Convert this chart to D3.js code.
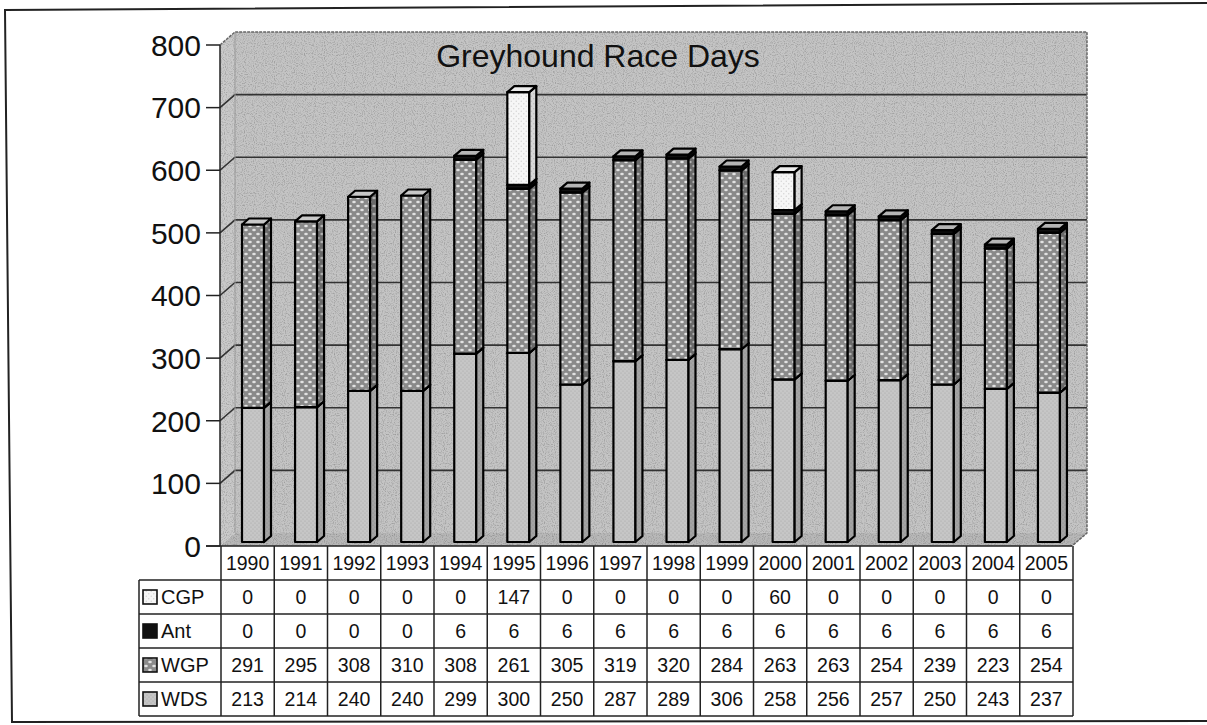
<!DOCTYPE html>
<html>
<head>
<meta charset="utf-8">
<script src="https://cdn.jsdelivr.net/npm/d3@7"></script>
<style>
  body { margin: 0; background: #fff; }
  svg text { font-family: "Liberation Sans", Arial, sans-serif; fill: #111; }
</style>
</head>
<body>
<div id="graph"></div>
<script>
"use strict";
const chartTitle = "Greyhound Race Days";
const years = ["1990", "1991", "1992", "1993", "1994", "1995", "1996", "1997",
               "1998", "1999", "2000", "2001", "2002", "2003", "2004", "2005"];
const seriesNames = ["WDS", "WGP", "Ant", "CGP"];           // stack order, bottom up
const tableOrder = ["CGP", "Ant", "WGP", "WDS"];            // table rows, top down
const wds = [213, 214, 240, 240, 299, 300, 250, 287, 289, 306, 258, 256, 257, 250, 243, 237];
const wgp = [291, 295, 308, 310, 308, 261, 305, 319, 320, 284, 263, 263, 254, 239, 223, 254];
const ant = [0, 0, 0, 0, 6, 6, 6, 6, 6, 6, 6, 6, 6, 6, 6, 6];
const cgp = [0, 0, 0, 0, 0, 147, 0, 0, 0, 0, 60, 0, 0, 0, 0, 0];
const yTicks = [0, 100, 200, 300, 400, 500, 600, 700, 800];

(function() {
    const svgSize = { width: 1207, height: 725 };
    const depth = { x: 15, y: -13 };       // depth of the walls
    const barDepth = { x: 7, y: -6 };      // depth of each column
    const barWidth = 22;
    const axisX = 220;
    const tableLeft = 139;
    const rowH = 34;

    const seriesValues = { WDS: wds, WGP: wgp, Ant: ant, CGP: cgp };
    const fills = {
        WDS: { front: "url(#pWds)", side: "url(#pWdsSide)", top: "#d6d6d6" },
        WGP: { front: "url(#pWgp)", side: "url(#pWgpSide)", top: "#c8c8c8" },
        Ant: { front: "#111", side: "#111", top: "#b5b5b5" },
        CGP: { front: "url(#pCgp)", side: "url(#pCgpSide)", top: "#ececec" },
    };

    let svg;
    let yAxis;
    let yBar;
    let xBar;
    let xTable;

    window.addEventListener("load", init);

    function init() {
        svg = d3.select("#graph")
            .append("svg")
                .attr("width", svgSize.width)
                .attr("height", svgSize.height);

        yAxis = d3.scaleLinear().domain([0, 800]).range([546, 45]);
        yBar = d3.scaleLinear().domain([0, 800]).range([542, 38]);
        xBar = d3.scaleBand().domain(years).range([226, 1075]);
        xTable = d3.scaleBand().domain(years).range([axisX + 1, 1073]);

        makeDefs();
        drawFrame();
        drawWalls();
        drawAxis();
        drawBars();
        drawTable();

        svg.append("text")
            .attr("x", 598)
            .attr("y", 67)
            .attr("text-anchor", "middle")
            .style("font-size", "32px")
            .text(chartTitle);
    }

    function makeDefs() {
        let defs = svg.append("defs");

        let f = defs.append("filter")
            .attr("id", "grain")
            .attr("x", 0).attr("y", 0).attr("width", "100%").attr("height", "100%");
        f.append("feTurbulence")
            .attr("type", "fractalNoise")
            .attr("baseFrequency", 0.9)
            .attr("numOctaves", 1)
            .attr("seed", 4);
        f.append("feColorMatrix")
            .attr("type", "matrix")
            .attr("values", "0 0 0 0 0  0 0 0 0 0  0 0 0 0 0  3 0 0 0 -1.4");

        // blobby texture like the scanned fill patterns
        pattern(defs, "pWgp", 8, 8, "#8a8a8a", "#e2e2e2", 1.8, 1.3);
        pattern(defs, "pWgpSide", 8, 8, "#6a6a6a", "#b2b2b2", 1.7, 1.2);
        pattern(defs, "pWds", 4, 4, "#c6c6c6", "#a6a6a6", 0.6, 0.6);
        pattern(defs, "pWdsSide", 4, 4, "#a4a4a4", "#888", 0.6, 0.6);
        pattern(defs, "pCgp", 5, 5, "#f6f6f6", "#d2d2d2", 0.7, 0.7);
        pattern(defs, "pCgpSide", 5, 5, "#d8d8d8", "#b8b8b8", 0.7, 0.7);

        defs.append("clipPath")
            .attr("id", "wallClip")
            .append("path")
            .attr("d", wallOutline());
    }

    function pattern(defs, id, w, h, base, dot, rx, ry) {
        let p = defs.append("pattern")
            .attr("id", id)
            .attr("patternUnits", "userSpaceOnUse")
            .attr("width", w)
            .attr("height", h);
        p.append("rect").attr("width", w).attr("height", h).attr("fill", base);
        p.append("ellipse").attr("cx", w / 4).attr("cy", h / 4)
            .attr("rx", rx).attr("ry", ry).attr("fill", dot);
        p.append("ellipse").attr("cx", 3 * w / 4).attr("cy", 3 * h / 4)
            .attr("rx", rx).attr("ry", ry).attr("fill", dot);
    }

    function wallOutline() {
        let top = yAxis(800);
        let bot = yAxis(0);
        return "M" + axisX + "," + top +
            "L" + (axisX + depth.x) + "," + (top + depth.y) +
            "L1087," + (top + depth.y) +
            "L1087," + (bot + depth.y) +
            "L1072," + bot +
            "L" + axisX + "," + bot + "Z";
    }

    function drawFrame() {
        svg.append("path")
            .attr("d", "M1207,3 L5,10 L12,722 L1207,721")
            .attr("fill", "none")
            .attr("stroke", "#222")
            .attr("stroke-width", 2);
    }

    function drawWalls() {
        let top = yAxis(800);
        let bot = yAxis(0);
        let bx = axisX + depth.x;
        let line = d3.line();

        // back wall
        svg.append("rect")
            .attr("x", bx)
            .attr("y", top + depth.y)
            .attr("width", 1087 - bx)
            .attr("height", bot - top)
            .attr("fill", "#c4c4c4");
        // side wall
        svg.append("path")
            .attr("d", line([[axisX, top], [bx, top + depth.y], [bx, bot + depth.y], [axisX, bot]]) + "Z")
            .attr("fill", "#c9c9c9");
        // floor
        svg.append("path")
            .attr("d", line([[axisX, bot], [1072, bot], [1087, bot + depth.y], [bx, bot + depth.y]]) + "Z")
            .attr("fill", "#b8b8b8");

        svg.append("rect")
            .attr("x", 200).attr("y", 0).attr("width", 900).attr("height", 560)
            .attr("clip-path", "url(#wallClip)")
            .attr("filter", "url(#grain)")
            .style("opacity", 0.2);

        // gridlines on back wall and side wall
        let grid = yTicks.filter((t) => t > 0 && t < 800);
        svg.selectAll(".grid")
            .data(grid)
            .enter()
            .append("path")
                .attr("class", "grid")
                .attr("d", (t) => line([[axisX, yAxis(t)], [bx, yAxis(t) + depth.y], [1087, yAxis(t) + depth.y]]))
                .attr("fill", "none")
                .attr("stroke", "#333")
                .attr("stroke-width", 1.6);

        svg.append("path")
            .attr("d", line([[axisX, top], [bx, top + depth.y], [1087, top + depth.y], [1087, bot + depth.y], [1072, bot]]))
            .attr("fill", "none")
            .attr("stroke", "#666")
            .attr("stroke-width", 1.5)
            .attr("stroke-dasharray", "3,1");
        svg.append("line")
            .attr("x1", bx).attr("x2", bx)
            .attr("y1", top + depth.y).attr("y2", bot + depth.y)
            .attr("stroke", "#999")
            .attr("stroke-width", 1);
    }

    function drawAxis() {
        svg.append("line")
            .attr("x1", axisX).attr("x2", axisX)
            .attr("y1", yAxis(800)).attr("y2", yAxis(0))
            .attr("stroke", "#222")
            .attr("stroke-width", 1.5);
        svg.selectAll(".tick")
            .data(yTicks)
            .enter()
            .append("line")
                .attr("x1", axisX - 14).attr("x2", axisX)
                .attr("y1", (t) => yAxis(t)).attr("y2", (t) => yAxis(t))
                .attr("stroke", "#222")
                .attr("stroke-width", 1.5);
        svg.selectAll(".ylabel")
            .data(yTicks)
            .enter()
            .append("text")
                .attr("x", 201)
                .attr("y", (t) => yAxis(t))
                .attr("dy", "0.36em")
                .attr("text-anchor", "end")
                .style("font-size", "30px")
                .text((t) => t);
    }

    function drawBars() {
        let rows = years.map((y, i) => {
            let r = { year: y };
            seriesNames.forEach((s) => r[s] = seriesValues[s][i]);
            return r;
        });
        let stacked = d3.stack().keys(seriesNames)(rows);
        let line = d3.line();
        let g = svg.append("g");

        years.forEach((year, i) => {
            let x = xBar(year) + 16;
            stacked.forEach((layer) => {
                let seg = layer[i];
                if (seg[1] - seg[0] <= 0) return;
                let y0 = yBar(seg[0]);
                let y1 = yBar(seg[1]);
                let c = fills[layer.key];
                // front face
                g.append("rect")
                    .attr("x", x).attr("y", y1)
                    .attr("width", barWidth).attr("height", y0 - y1)
                    .attr("fill", c.front)
                    .attr("stroke", "#000").attr("stroke-width", 2.2)
                    .attr("stroke-linejoin", "round");
                // side face
                g.append("path")
                    .attr("d", line([[x + barWidth, y1], [x + barWidth + barDepth.x, y1 + barDepth.y],
                        [x + barWidth + barDepth.x, y0 + barDepth.y], [x + barWidth, y0]]) + "Z")
                    .attr("fill", c.side)
                    .attr("stroke", "#000").attr("stroke-width", 2.2)
                    .attr("stroke-linejoin", "round");
                // top face
                g.append("path")
                    .attr("d", line([[x, y1], [x + barWidth, y1], [x + barWidth + barDepth.x, y1 + barDepth.y],
                        [x + barDepth.x, y1 + barDepth.y]]) + "Z")
                    .attr("fill", c.top)
                    .attr("stroke", "#000").attr("stroke-width", 2.2)
                    .attr("stroke-linejoin", "round");
            });
        });
    }

    function drawTable() {
        let top = yAxis(0);
        let right = xTable.range()[1];
        let g = svg.append("g");
        let stroke = "#222";

        // front edge of the floor / top of table, with the 0 tick
        g.append("line")
            .attr("x1", axisX - 14).attr("x2", 1072)
            .attr("y1", top).attr("y2", top)
            .attr("stroke", stroke).attr("stroke-width", 1.5);

        // horizontal rules
        d3.range(1, 6).forEach((r) => {
            g.append("line")
                .attr("x1", tableLeft).attr("x2", right)
                .attr("y1", top + r * rowH).attr("y2", top + r * rowH)
                .attr("stroke", stroke).attr("stroke-width", 1.5);
        });
        // vertical rules
        let xs = years.map((y) => xTable(y)).concat([right]);
        g.selectAll(".vrule")
            .data(xs)
            .enter()
            .append("line")
                .attr("x1", (d) => d).attr("x2", (d) => d)
                .attr("y1", top).attr("y2", top + 5 * rowH)
                .attr("stroke", stroke).attr("stroke-width", 1.5);
        g.append("line")
            .attr("x1", tableLeft).attr("x2", tableLeft)
            .attr("y1", top + rowH).attr("y2", top + 5 * rowH)
            .attr("stroke", stroke).attr("stroke-width", 1.5);

        // year header
        g.selectAll(".yearLabel")
            .data(years)
            .enter()
            .append("text")
                .attr("x", (d) => xTable(d) + xTable.bandwidth() / 2)
                .attr("y", top + rowH / 2)
                .attr("dy", "0.36em")
                .attr("text-anchor", "middle")
                .style("font-size", "19.5px")
                .text((d) => d);

        tableOrder.forEach((name, r) => {
            let cy = top + (r + 1.5) * rowH;
            g.append("rect")
                .attr("x", tableLeft + 4).attr("y", cy - 7)
                .attr("width", 14).attr("height", 14)
                .attr("fill", fills[name].front)
                .attr("stroke", "#111").attr("stroke-width", 1.6);
            g.append("text")
                .attr("x", tableLeft + 22)
                .attr("y", cy)
                .attr("dy", "0.36em")
                .style("font-size", "20px")
                .text(name);
            g.selectAll(".v" + name)
                .data(seriesValues[name])
                .enter()
                .append("text")
                    .attr("x", (d, i) => xTable(years[i]) + xTable.bandwidth() / 2)
                    .attr("y", cy)
                    .attr("dy", "0.36em")
                    .attr("text-anchor", "middle")
                    .style("font-size", "19.5px")
                    .text((d) => d);
        });
    }
})();
</script>
</body>
</html>
